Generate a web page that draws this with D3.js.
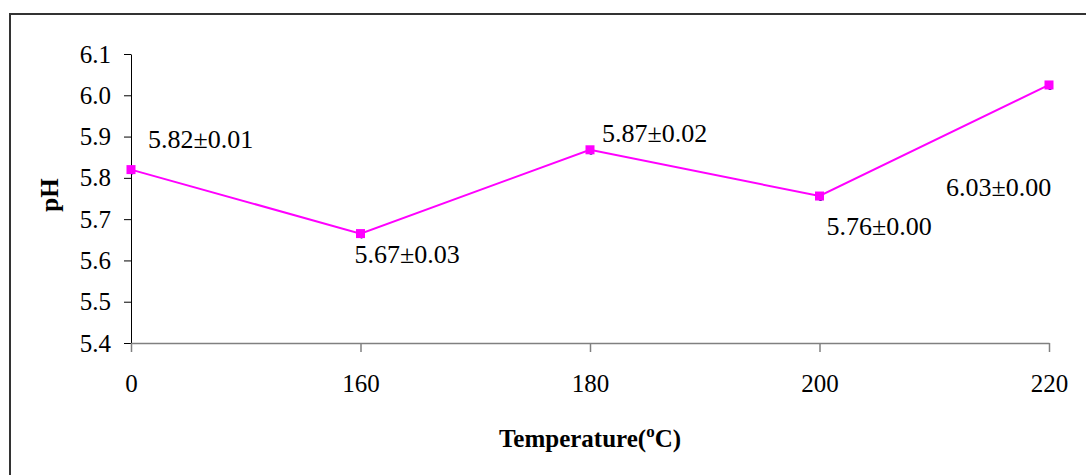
<!DOCTYPE html>
<html>
<head>
<meta charset="utf-8">
<script src="https://cdn.jsdelivr.net/npm/d3@7"></script>
<style>
  body { margin: 0; background: #fff; }
  svg { display: block; }
  svg text { font-family: "Liberation Serif", "DejaVu Serif", serif; }
</style>
</head>
<body>
<div id="chart"></div>
<script>
// values
const temps = ["0", "160", "180", "200", "220"];
const phValues = [5.82, 5.665, 5.868, 5.756, 6.025];
const phLabels = ["5.82±0.01", "5.67±0.03", "5.87±0.02", "5.76±0.00", "6.03±0.00"];
const yTicks = [5.4, 5.5, 5.6, 5.7, 5.8, 5.9, 6.0, 6.1];

// where each data label sits relative to its point
const labelOffsets = [[17, -22], [-6, 29], [12, -8], [7, 39], [-103, 111]];

const width = 1086;
const height = 475;

const svg = d3.select("#chart")
  .append("svg")
  .attr("width", width)
  .attr("height", height);

// outer frame (only top and left show in the picture)
svg.append("rect")
  .attr("x", 10)
  .attr("y", 14)
  .attr("width", width + 20)
  .attr("height", height + 20)
  .attr("fill", "none")
  .attr("stroke", "#333")
  .attr("stroke-width", 2);

const x = d3.scalePoint().domain(temps).range([131, 1049]);
const y = d3.scaleLinear().domain([5.4, 6.1]).range([343, 54]);

// y axis
const yAxis = svg.append("g")
  .attr("transform", "translate(131,0)")
  .call(d3.axisLeft(y).tickValues(yTicks).tickFormat(d3.format(".1f"))
    .tickSize(7).tickSizeOuter(0).tickPadding(13));
yAxis.select(".domain").attr("stroke", "#000");
yAxis.selectAll(".tick line").attr("stroke", "#000");
yAxis.selectAll("text")
  .attr("font-size", 25)
  .attr("fill", "#000");

// x axis
const xAxis = svg.append("g")
  .attr("transform", "translate(0,343)")
  .call(d3.axisBottom(x).tickSize(9).tickSizeOuter(0).tickPadding(22));
xAxis.select(".domain").attr("stroke", "#808080").attr("stroke-width", 1.5);
xAxis.selectAll(".tick line").attr("stroke", "#808080").attr("stroke-width", 1.5);
xAxis.selectAll("text")
  .attr("font-size", 25)
  .attr("fill", "#000");

// axis titles
svg.append("text")
  .attr("transform", "translate(58,195) rotate(-90)")
  .attr("text-anchor", "middle")
  .attr("font-size", 25)
  .attr("font-weight", "bold")
  .text("pH");

const xTitle = svg.append("text")
  .attr("x", 590)
  .attr("y", 447)
  .attr("text-anchor", "middle")
  .attr("font-size", 25)
  .attr("font-weight", "bold");
xTitle.append("tspan").text("Temperature(");
xTitle.append("tspan").attr("font-size", 17).attr("dy", -10).text("o");
xTitle.append("tspan").attr("dy", 10).text("C)");

// series
const pts = temps.map((t, i) => ({ t: t, v: phValues[i], label: phLabels[i], off: labelOffsets[i] }));

const line = d3.line().x((d) => x(d.t)).y((d) => y(d.v));

svg.append("path")
  .datum(pts)
  .attr("fill", "none")
  .attr("stroke", "#ff00ff")
  .attr("stroke-width", 2)
  .attr("d", line);

// small dark dots peeking under the markers
svg.selectAll(".dot")
  .data(pts)
  .join("circle")
  .attr("class", "dot")
  .attr("cx", (d) => x(d.t) + 1)
  .attr("cy", (d) => y(d.v) + 3)
  .attr("r", 2)
  .attr("fill", "#000080");

svg.selectAll(".marker")
  .data(pts)
  .join("rect")
  .attr("class", "marker")
  .attr("x", (d) => x(d.t) - 4.5)
  .attr("y", (d) => y(d.v) - 4.5)
  .attr("width", 9)
  .attr("height", 9)
  .attr("fill", "#ff00ff");

svg.selectAll(".lbl")
  .data(pts)
  .join("text")
  .attr("class", "lbl")
  .attr("x", (d) => x(d.t) + d.off[0])
  .attr("y", (d) => y(d.v) + d.off[1])
  .attr("font-size", 26)
  .attr("fill", "#000")
  .text((d) => d.label);
</script>
</body>
</html>
